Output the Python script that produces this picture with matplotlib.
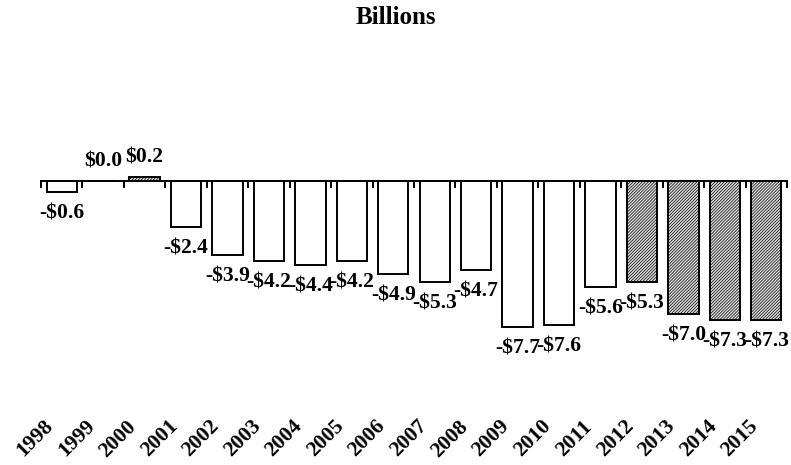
import matplotlib
matplotlib.use("Agg")
import matplotlib.pyplot as plt
from matplotlib.transforms import ScaledTranslation

years = ["1998", "1999", "2000", "2001", "2002", "2003", "2004", "2005", "2006",
         "2007", "2008", "2009", "2010", "2011", "2012", "2013", "2014", "2015"]
values = [-0.6, 0.0, 0.2, -2.4, -3.9, -4.2, -4.4, -4.2, -4.9,
          -5.3, -4.7, -7.7, -7.6, -5.6, -5.3, -7.0, -7.3, -7.3]
projected = [False] * 14 + [True] * 4
title = "Billions"

plt.rcParams["font.family"] = ["Liberation Serif", "DejaVu Serif"]
plt.rcParams["font.weight"] = "bold"
plt.rcParams["hatch.linewidth"] = 0.5

fig = plt.figure(figsize=(7.91, 4.65), dpi=100)
ax = fig.add_axes([41 / 791, 50 / 465, 746 / 791, 355 / 465])

x = list(range(len(years)))
for xi, v, proj in zip(x, values, projected):
    if proj or v > 0:
        ax.bar(xi, v, width=0.73, facecolor="#dedede", edgecolor="black",
               linewidth=1.4, hatch="/" * 11)
    else:
        ax.bar(xi, v, width=0.73, facecolor="white", edgecolor="black",
               linewidth=1.4)
    label = f"-${abs(v):.1f}" if v < 0 else f"${v:.1f}"
    ax.annotate(label, (xi, v), xytext=(0, -15.5 if v < 0 else 14),
                textcoords="offset points", ha="center", va="center",
                fontsize=15.5, fontweight="bold")

ax.set_xlim(-0.5, len(years) - 0.5)
ax.set_ylim(-(415 - 181) / 19, (181 - 60) / 19)

# Zero line with boundary ticks
for side in ["top", "right", "left"]:
    ax.spines[side].set_visible(False)
ax.spines["bottom"].set_position(("data", 0))
ax.spines["bottom"].set_linewidth(1.4)
ax.set_xticks([i - 0.5 for i in range(len(years) + 1)])
ax.tick_params(axis="x", direction="out", length=5, width=1.4, labelbottom=False)
ax.set_yticks([])

# Year labels along the bottom
sec = ax.secondary_xaxis(0)
sec.set_xticks(x)
sec.set_xticklabels(years, rotation=45, ha="right", fontsize=15.5, fontweight="bold")
sec.tick_params(length=0, pad=1)
sec.spines["bottom"].set_visible(False)
shift = ScaledTranslation(-4 / 100, 0, fig.dpi_scale_trans)
for lbl in sec.get_xticklabels():
    lbl.set_transform(lbl.get_transform() + shift)

fig.text(0.5, 1 - 17 / 465, title, ha="center", va="center",
         fontsize=18, fontweight="bold")

fig.savefig("out.png", dpi=100)
